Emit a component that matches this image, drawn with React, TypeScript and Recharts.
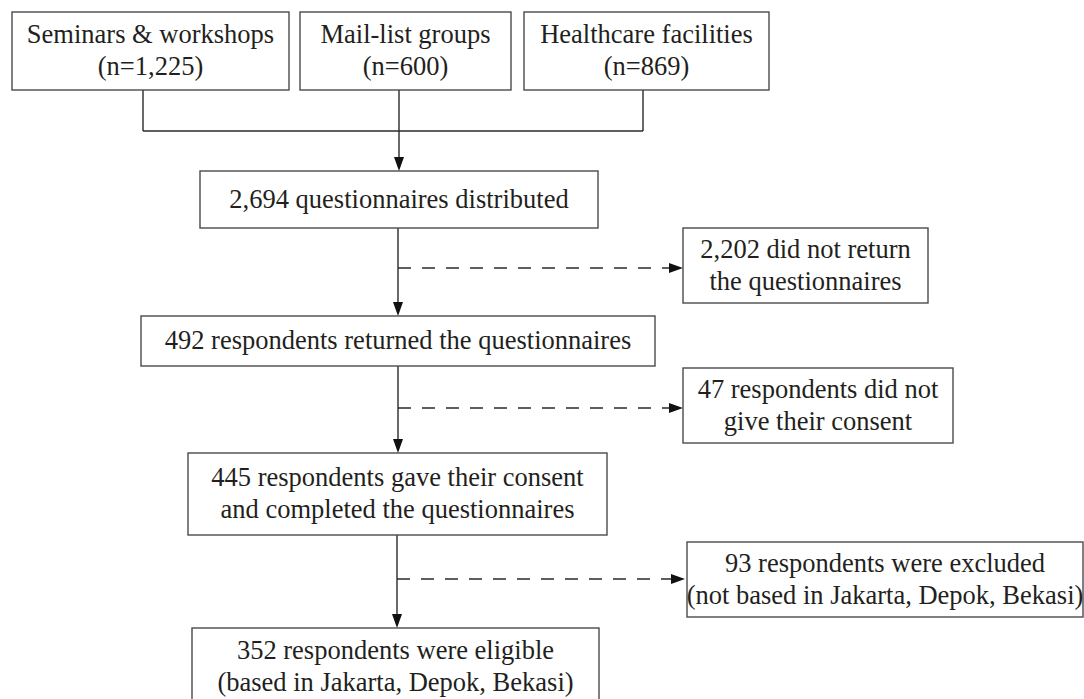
import { ReferenceLine, Scatter, ScatterChart, XAxis, YAxis } from "recharts";

const W = 1084;
const H = 699;

// steps of the recruitment flow, top to bottom
const stepCounts = [1225, 600, 869, 2694, 2202, 492, 47, 445, 93, 352];
const stepText = [
  ["Seminars & workshops", "(n={n})"],
  ["Mail-list groups", "(n={n})"],
  ["Healthcare facilities", "(n={n})"],
  ["{n} questionnaires distributed"],
  ["{n} did not return", "the questionnaires"],
  ["{n} respondents returned the questionnaires"],
  ["{n} respondents did not", "give their consent"],
  ["{n} respondents gave their consent", "and completed the questionnaires"],
  ["{n} respondents were excluded", "(not based in Jakarta, Depok, Bekasi)"],
  ["{n} respondents were eligible", "(based in Jakarta, Depok, Bekasi)"],
];

// box placement in chart units (x right, y down)
const boxLayout = [
  { x: 150.5, y: 51, w: 277, h: 78 },
  { x: 405.5, y: 51, w: 211, h: 78 },
  { x: 646.5, y: 51, w: 245, h: 78 },
  { x: 399, y: 199.5, w: 398, h: 57 },
  { x: 805.5, y: 265.5, w: 245, h: 75 },
  { x: 398, y: 341, w: 514, h: 50 },
  { x: 818, y: 405.5, w: 270, h: 75 },
  { x: 397.5, y: 494, w: 419, h: 82 },
  { x: 885, y: 579.5, w: 396, h: 75 },
  { x: 395.5, y: 667, w: 407, h: 78 },
];

type Link = { from: [number, number]; to: [number, number]; dashed?: boolean; arrow?: boolean };

const links: Link[] = [
  { from: [143, 90], to: [143, 131] },
  { from: [143, 131], to: [643, 131] },
  { from: [643, 131], to: [643, 90] },
  { from: [399, 90], to: [399, 171], arrow: true },
  { from: [398, 228], to: [398, 316], arrow: true },
  { from: [398, 268], to: [683, 268], dashed: true, arrow: true },
  { from: [398, 366], to: [398, 453], arrow: true },
  { from: [398, 408], to: [683, 408], dashed: true, arrow: true },
  { from: [397, 535], to: [397, 628], arrow: true },
  { from: [397, 579], to: [685, 579], dashed: true, arrow: true },
];

const nodes = boxLayout.map((b, i) => ({
  ...b,
  lines: stepText[i].map((t) => t.replace("{n}", stepCounts[i].toLocaleString("en-US"))),
}));

const FONT = "'Liberation Serif', 'Times New Roman', serif";

const BoxShape = (props: any) => {
  const { cx, cy, payload } = props;
  const { w, h, lines } = payload;
  return (
    <g>
      <rect
        x={cx - w / 2}
        y={cy - h / 2}
        width={w}
        height={h}
        fill="#fff"
        stroke="#4a4a4a"
        strokeWidth={1.4}
      />
      {lines.map((t: string, i: number) => (
        <text
          key={i}
          x={cx}
          y={cy + (i - (lines.length - 1) / 2) * 32 - 1}
          textAnchor="middle"
          dominantBaseline="central"
          fontFamily={FONT}
          fontSize={26.5}
          fill="#231f20"
        >
          {t}
        </text>
      ))}
    </g>
  );
};

const linkShape = (link: Link) => (p: any) => {
  const { x1, y1, x2, y2 } = p;
  const len = Math.hypot(x2 - x1, y2 - y1) || 1;
  const ux = (x2 - x1) / len;
  const uy = (y2 - y1) / len;
  const L = link.arrow ? 14 : 0;
  const bx = x2 - ux * L;
  const by = y2 - uy * L;
  return (
    <g>
      <line
        x1={x1}
        y1={y1}
        x2={bx}
        y2={by}
        stroke="#2a2a2a"
        strokeWidth={1.4}
        strokeDasharray={link.dashed ? "13 11" : undefined}
      />
      {link.arrow && (
        <polygon
          points={`${x2},${y2} ${bx - uy * 5},${by + ux * 5} ${bx + uy * 5},${by - ux * 5}`}
          fill="#111"
        />
      )}
    </g>
  );
};

export default function App() {
  return (
    <div style={{ position: "absolute", left: 0, top: 0, width: W, height: H, background: "#fff" }}>
      <ScatterChart width={W} height={H} margin={{ top: 0, right: 0, bottom: 0, left: 0 }}>
        <XAxis type="number" dataKey="x" domain={[0, W]} allowDataOverflow hide />
        <YAxis type="number" dataKey="y" domain={[0, H]} allowDataOverflow reversed hide />
        {links.map((l, i) => (
          <ReferenceLine
            key={i}
            segment={[
              { x: l.from[0], y: l.from[1] },
              { x: l.to[0], y: l.to[1] },
            ]}
            ifOverflow="visible"
            shape={linkShape(l)}
          />
        ))}
        <Scatter data={nodes} shape={BoxShape} isAnimationActive={false} />
      </ScatterChart>
    </div>
  );
}
